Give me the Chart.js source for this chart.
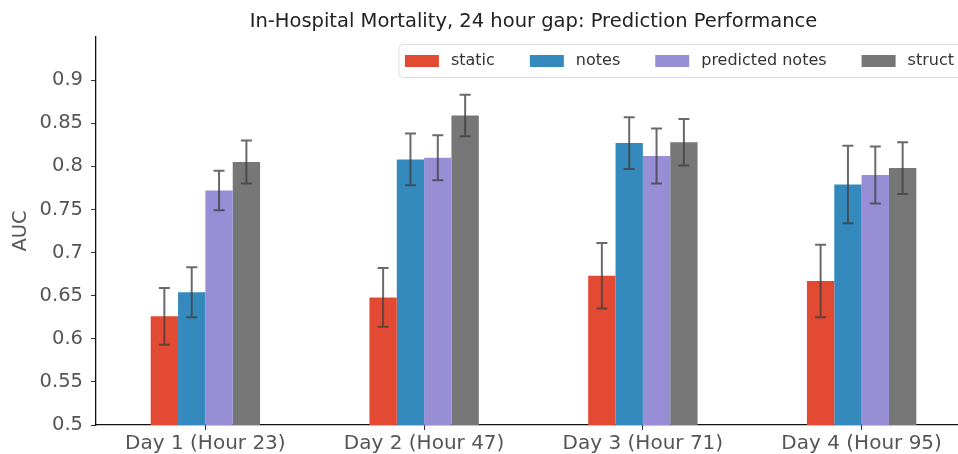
<!DOCTYPE html>
<html><head><meta charset="utf-8">
<script src="https://cdn.jsdelivr.net/npm/chart.js@4/dist/chart.umd.min.js"></script>
<style>
html,body{margin:0;padding:0;background:#fff;overflow:hidden;}
#wrap{width:1000px;height:454px;position:relative;}
</style>
</head><body>
<div id="wrap"><canvas id="c"></canvas></div>
<script>
const categories = ['Day 1 (Hour 23)', 'Day 2 (Hour 47)', 'Day 3 (Hour 71)', 'Day 4 (Hour 95)'];
const seriesNames = ['static', 'notes', 'predicted notes', 'struct'];
const staticAUC    = [0.626, 0.648, 0.673, 0.667];
const notesAUC     = [0.654, 0.808, 0.827, 0.779];
const predNotesAUC = [0.772, 0.810, 0.812, 0.790];
const structAUC    = [0.805, 0.859, 0.828, 0.798];
const staticErr    = [0.033, 0.034, 0.038, 0.042];
const notesErr     = [0.029, 0.030, 0.030, 0.045];
const predNotesErr = [0.023, 0.026, 0.032, 0.033];
const structErr    = [0.025, 0.024, 0.027, 0.030];
const yTickValues  = [0.5, 0.55, 0.6, 0.65, 0.7, 0.75, 0.8, 0.85, 0.9];
const yTickLabels  = ['0.5', '0.55', '0.6', '0.65', '0.7', '0.75', '0.8', '0.85', '0.9'];
const titleText = 'In-Hospital Mortality, 24 hour gap: Prediction Performance';
const yTitle = 'AUC';

const colors = ['#E24A33', '#348ABD', '#988ED5', '#777777'];
const values = [staticAUC, notesAUC, predNotesAUC, structAUC];
const errors = [staticErr, notesErr, predNotesErr, structErr];
const FONT = 'DejaVu Sans';

const errorBarPlugin = {
  id: 'errorBars',
  afterDatasetsDraw(chart) {
    const ctx = chart.ctx;
    const y = chart.scales.y;
    ctx.save();
    ctx.strokeStyle = 'rgba(64,64,64,0.78)';
    ctx.lineWidth = 2;
    chart.data.datasets.forEach((ds, i) => {
      const meta = chart.getDatasetMeta(i);
      meta.data.forEach((bar, j) => {
        const v = ds.data[j], e = ds.err[j];
        const x = bar.x;
        const yt = y.getPixelForValue(v + e), yb = y.getPixelForValue(v - e);
        ctx.beginPath();
        ctx.moveTo(x, yt); ctx.lineTo(x, yb);
        ctx.moveTo(x - 5.5, yt); ctx.lineTo(x + 5.5, yt);
        ctx.moveTo(x - 5.5, yb); ctx.lineTo(x + 5.5, yb);
        ctx.stroke();
      });
    });
    ctx.restore();
  }
};

const legendPlugin = {
  id: 'mplLegend',
  afterDraw(chart) {
    const ctx = chart.ctx, ca = chart.chartArea;
    ctx.save();
    ctx.font = '16px "' + FONT + '"';
    const sw = 34, sh = 12, gapText = 12, gapItem = 35, padL = 6, padR = 8;
    const widths = chart.data.datasets.map(d => ctx.measureText(d.label).width);
    let total = padL + padR;
    widths.forEach((w, i) => { total += sw + gapText + w + (i < widths.length - 1 ? gapItem : 0); });
    const right = ca.right - 9;
    const left = right - total;
    const top = ca.top + 7.5, h = 33;
    ctx.beginPath();
    if (ctx.roundRect) ctx.roundRect(left, top, total, h, 4); else ctx.rect(left, top, total, h);
    ctx.fillStyle = 'rgba(255,255,255,0.8)';
    ctx.fill();
    ctx.strokeStyle = '#dcdcdc';
    ctx.lineWidth = 1;
    ctx.stroke();
    let x = left + padL;
    const cy = top + h / 2;
    chart.data.datasets.forEach((d, i) => {
      ctx.fillStyle = d.backgroundColor;
      ctx.fillRect(x, cy - sh / 2, sw, sh);
      x += sw + gapText;
      ctx.fillStyle = '#333';
      ctx.textBaseline = 'middle';
      ctx.textAlign = 'left';
      ctx.fillText(d.label, x, cy);
      x += widths[i] + gapItem;
    });
    ctx.restore();
  }
};

new Chart(document.getElementById('c'), {
  type: 'bar',
  data: {
    labels: categories,
    datasets: seriesNames.map((name, i) => ({
      label: name,
      data: values[i],
      err: errors[i],
      backgroundColor: colors[i],
      borderWidth: 0,
      barPercentage: 1.0,
      categoryPercentage: 0.5
    }))
  },
  options: {
    responsive: true,
    maintainAspectRatio: false,
    devicePixelRatio: 1,
    animation: false,
    layout: { padding: { left: 0, right: 29, top: 0, bottom: 0 } },
    plugins: {
      legend: { display: false },
      tooltip: { enabled: false },
      title: {
        display: true,
        text: titleText,
        fullSize: false,
        color: '#222',
        font: { family: FONT, size: 19.5, weight: 'normal' },
        padding: { top: 10.5, bottom: 3.1 }
      }
    },
    scales: {
      x: {
        grid: { display: true, drawOnChartArea: false, drawTicks: true, tickLength: 5, offset: false, color: '#333', lineWidth: 1 },
        border: { display: true, color: '#111', width: 1.3 },
        ticks: { color: '#555', font: { family: FONT, size: 20 }, padding: 2, maxRotation: 0 },
        afterFit(s) { s.height = 29; }
      },
      y: {
        min: 0.5, max: 0.95,
        afterBuildTicks(s) { s.ticks = yTickValues.map(v => ({ value: v })); },
        grid: { display: true, drawOnChartArea: false, drawTicks: true, tickLength: 5, color: '#333', lineWidth: 1 },
        border: { display: true, color: '#111', width: 1.3 },
        ticks: { color: '#555', font: { family: FONT, size: 19.5 }, padding: 8, callback: (v, i) => yTickLabels[i] },
        title: { display: true, text: yTitle, color: '#555', font: { family: FONT, size: 19.5 }, padding: { top: 9, bottom: 0 } },
        afterFit(s) { s.width = 96; }
      }
    }
  },
  plugins: [errorBarPlugin, legendPlugin]
});
</script>
</body></html>
